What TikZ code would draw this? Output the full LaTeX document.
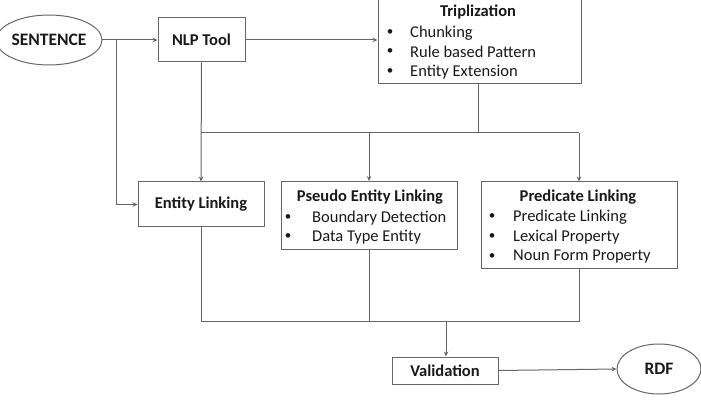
\documentclass[tikz,border=0pt]{standalone}
\usepackage{fontspec}
\setmainfont{Carlito}
\usetikzlibrary{shapes.geometric,arrows.meta}
\begin{document}
\begin{tikzpicture}[x=1pt,y=-1pt,
  box/.style={draw=black!60,line width=1pt,rectangle,inner sep=0pt,fill=white},
  oval/.style={draw=black!60,line width=1pt,ellipse,inner sep=0pt,font=\fontsize{17.5}{19}\selectfont\bfseries,text=black!90},
  ttl/.style={font=\fontsize{16.5}{18}\selectfont\bfseries,text=black!90,inner sep=0pt},
  itm/.style={font=\fontsize{16.5}{18}\selectfont,text=black!90,inner sep=0pt,anchor=west},
  bul/.style={font=\fontsize{13}{15}\selectfont,text=black!90,inner sep=0pt},
  ln/.style={draw=black!60,line width=1pt},
  arr/.style={ln,-{Stealth[length=5pt,width=4.5pt]}}]
\useasboundingbox (0,0) rectangle (701,411);
% nodes
\node[oval,minimum width=87pt,minimum height=50pt] (sent) at (49,40) {SENTENCE};
\node[box,minimum width=87pt,minimum height=44pt,ttl] (nlp) at (201.5,40) {NLP Tool};
\node[box,minimum width=203pt,minimum height=85pt] (trip) at (479.5,41) {};
\node[ttl] (tript) at (478,12) {Triplization};
\node[bul] (tb1) at (390,33) {•};
\node[bul] (tb2) at (390,52) {•};
\node[bul] (tb3) at (390,72) {•};
\node[itm] (ti1) at (410,33) {Chunking};
\node[itm] (ti2) at (410,52) {Rule based Pattern};
\node[itm] (ti3) at (410,72) {Entity Extension};

\node[box,minimum width=126pt,minimum height=45pt,ttl] (el) at (201,204.5) {Entity Linking};

\node[box,minimum width=176pt,minimum height=68pt] (pel) at (369,215.5) {};
\node[ttl] (pelt) at (370,197) {Pseudo Entity Linking};
\node[bul] (pb1) at (288,218) {•};
\node[bul] (pb2) at (288,237) {•};
\node[itm] (pi1) at (312,218) {Boundary Detection};
\node[itm] (pi2) at (312,237) {Data Type Entity};

\node[box,minimum width=196pt,minimum height=87pt] (pl) at (579,225.5) {};
\node[ttl] (plt) at (578,197) {Predicate Linking};
\node[bul] (lb1) at (492,217) {•};
\node[bul] (lb2) at (492,237) {•};
\node[bul] (lb3) at (492,257) {•};
\node[itm] (li1) at (513,217) {Predicate Linking};
\node[itm] (li2) at (513,237) {Lexical Property};
\node[itm] (li3) at (513,257) {Noun Form Property};

\node[box,minimum width=106pt,minimum height=27pt,ttl] (val) at (445,370.5) {Validation};
\node[oval,minimum width=84pt,minimum height=50pt] (rdf) at (659,369) {RDF};

% junctions
\coordinate (j1) at (116,40);
\coordinate (h1) at (478,133);
\coordinate (h2) at (446,322);

% connectors
\draw[arr] (sent.east) -- (nlp.west);
\draw[arr] (j1) |- (el.west);
\draw[arr] (nlp.east) -- (trip.west |- nlp.east);
\draw[arr] (nlp.south) -- (el.north);
\draw[ln] (trip.south -| h1) -- (h1);
\draw[ln] (el.north |- h1) -- (pl.north |- h1);
\draw[arr] (pel.north |- h1) -- (pel.north);
\draw[arr] (pl.north |- h1) -- (pl.north);
\draw[ln] (el.south) -- (el.south |- h2);
\draw[ln] (pel.south) -- (pel.south |- h2);
\draw[ln] (pl.south) -- (pl.south |- h2);
\draw[ln] (el.south |- h2) -- (pl.south |- h2);
\draw[arr] (h2) -- (val.north -| h2);
\draw[arr] (val.east) -- (rdf.west);
\end{tikzpicture}
\end{document}
